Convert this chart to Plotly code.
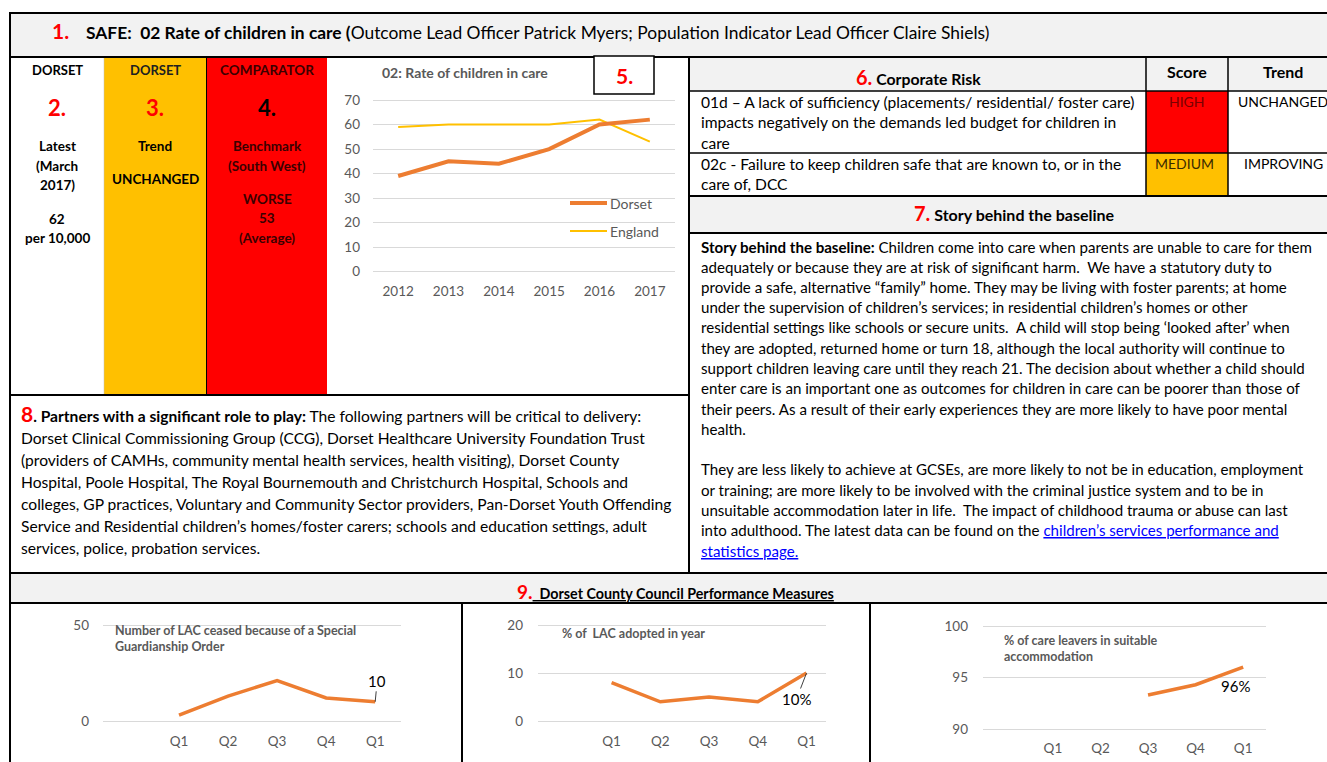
import plotly.graph_objects as go

W, H = 1327, 762
FONT = "Lato"
ORANGE = "#ED7D31"
YELLOW = "#FFC000"
GRID = "#D9D9D9"
TICK = "#595959"

# ---------------- data ----------------
years = ["2012", "2013", "2014", "2015", "2016", "2017"]
dorset_rate = [39, 45, 44, 50, 60, 62]
england_rate = [59, 60, 60, 60, 62, 53]

quarters = ["Q1", "Q2", "Q3", "Q4", "Q1"]
q_pos = [0, 1, 2, 3, 4]
sgo_ceased = [3, 13, 21, 12, 10]
lac_adopted_pct = [8, 4, 5, 4, 10]
care_leavers_pct = [None, None, 93.3, 94.3, 96]

risk_rows = [
    ["01d – A lack of sufficiency (placements/ residential/ foster care)",
     "impacts negatively on the demands led budget for children in",
     "care"],
    ["02c - Failure to keep children safe that are known to, or in the",
     "care of, DCC"],
]
risk_scores = ["HIGH", "MEDIUM"]
risk_trends = ["UNCHANGED", "IMPROVING"]

story_lines = [
    "<b>Story behind the baseline:</b> Children come into care when parents are unable to care for them",
    "adequately or because they are at risk of significant harm.&nbsp; We have a statutory duty to",
    "provide a safe, alternative “family” home. They may be living with foster parents; at home",
    "under the supervision of children’s services; in residential children’s homes or other",
    "residential settings like schools or secure units.&nbsp; A child will stop being ‘looked after’ when",
    "they are adopted, returned home or turn 18, although the local authority will continue to",
    "support children leaving care until they reach 21. The decision about whether a child should",
    "enter care is an important one as outcomes for children in care can be poorer than those of",
    "their peers. As a result of their early experiences they are more likely to have poor mental",
    "health.",
    "They are less likely to achieve at GCSEs, are more likely to not be in education, employment",
    "or training; are more likely to be involved with the criminal justice system and to be in",
    "unsuitable accommodation later in life.&nbsp; The impact of childhood trauma or abuse can last",
    "into adulthood. The latest data can be found on the <span style='color:#0000FF;text-decoration:underline'>children’s services performance and</span>",
    "<span style='color:#0000FF;text-decoration:underline'>statistics page.</span>",
]
story_y = [247, 267, 287, 307, 327, 348, 368, 388, 409, 429, 469, 490, 510, 530, 551]

partner_lines = [
    "<span style='color:#FF0000;font-size:21px'><b>8</b></span><b>. Partners with a significant role to play:</b> The following partners will be critical to delivery:",
    "Dorset Clinical Commissioning Group (CCG), Dorset Healthcare University Foundation Trust",
    "(providers of CAMHs, community mental health services, health visiting), Dorset County",
    "Hospital, Poole Hospital, The Royal Bournemouth and Christchurch Hospital, Schools and",
    "colleges, GP practices, Voluntary and Community Sector providers, Pan-Dorset Youth Offending",
    "Service and Residential children’s homes/foster carers; schools and education settings, adult",
    "services, police, probation services.",
]
partner_y = [413, 438, 460, 482, 504, 526, 548]

BODY = 15.6
STORY = 15.1


def px(x):
    return x / W


def py(y):
    return 1 - y / H


fig = go.Figure()
shapes = []
annots = []


def rect(x0, y0, x1, y1, fill="rgba(0,0,0,0)", lw=0, lc="black", layer="below"):
    shapes.append(dict(type="rect", xref="paper", yref="paper",
                       x0=px(x0), x1=px(x1), y0=py(y1), y1=py(y0),
                       fillcolor=fill, line=dict(width=lw, color=lc), layer=layer))


def line(x0, y0, x1, y1, lw=2, lc="black", layer="above"):
    shapes.append(dict(type="line", xref="paper", yref="paper",
                       x0=px(x0), x1=px(x1), y0=py(y0), y1=py(y1),
                       line=dict(width=lw, color=lc), layer=layer))


def txt(x, y, s, size=14, color="black", anchor="left", family=FONT):
    annots.append(dict(xref="paper", yref="paper", x=px(x), y=py(y), text=s,
                       showarrow=False, xanchor=anchor, yanchor="middle",
                       font=dict(family=family, size=size, color=color)))


# ---------------- frame / boxes ----------------
rect(10, 13, 1330, 57, fill="#F2F2F2")
rect(104, 58, 207, 395, fill=YELLOW)
rect(207, 58, 327, 395, fill="#FF0000")
rect(690, 58, 1330, 91, fill="#F2F2F2")
rect(1146, 91, 1228, 153, fill="#FF0000")
rect(1146, 153, 1228, 196, fill=YELLOW)
rect(690, 196, 1330, 233, fill="#F2F2F2")
rect(10, 573, 1330, 603, fill="#F2F2F2")

line(10, 13, 1330, 13)
line(10, 57, 1330, 57)
line(10, 12, 10, 762)
line(206.5, 58, 206.5, 395, lw=1)
line(104, 58, 104, 395, lw=0.5, lc="#BFBFBF")
line(10, 395, 689, 395)
line(689, 57, 689, 573)
line(690, 91, 1330, 91, lw=1.5)
line(690, 153, 1330, 153, lw=1.5)
line(1146, 57, 1146, 196, lw=1.5)
line(1228, 57, 1228, 196, lw=1.5)
line(690, 196, 1330, 196)
line(690, 233, 1330, 233)
line(10, 573, 1330, 573)
line(10, 603, 1330, 603)
line(462, 603, 462, 762)
line(870, 603, 870, 762)
# box "5."
rect(594, 56, 654, 94, fill="white", lw=1.5, layer="above")

# ---------------- header ----------------
txt(50, 31, "<b>1.</b>", size=21, color="#FF0000")
txt(84, 32, "<b>SAFE:&nbsp; 02 Rate of children in care (</b>Outcome Lead Officer Patrick Myers; "
    "Population Indicator Lead Officer Claire Shiels)", size=17.4)

# ---------------- left columns ----------------
c1, c2, c3 = 57, 155, 267
CS = 13.5
txt(c1, 70, "<b>DORSET</b>", 13, anchor="center")
txt(c1, 108, "<b>2.</b>", 22, "#FF0000", anchor="center")
for yy, s in [(146, "Latest"), (166, "(March"), (185, "2017)"), (219, "62"), (238, "per 10,000")]:
    txt(c1, yy, f"<b>{s}</b>", CS, anchor="center")
txt(c2, 70, "<b>DORSET</b>", 13, "#202020", anchor="center")
txt(c2, 108, "<b>3.</b>", 22, "#FF0000", anchor="center")
txt(c2, 146, "<b>Trend</b>", CS, anchor="center")
txt(c2, 179, "<b>UNCHANGED</b>", CS, anchor="center")
DR = "#3A0000"
txt(c3, 70, "<b>COMPARATOR</b>", 13.5, DR, anchor="center")
txt(c3, 108, "<b>4.</b>", 22, "black", anchor="center")
for yy, s in [(146, "Benchmark"), (166, "(South West)"), (199, "WORSE"), (218, "53"), (238, "(Average)")]:
    txt(c3, yy, f"<b>{s}</b>", CS, DR, anchor="center")

# ---------------- main chart ----------------
fig.add_trace(go.Scatter(x=years, y=england_rate, mode="lines", name="England",
                         line=dict(color=YELLOW, width=2), xaxis="x", yaxis="y",
                         showlegend=False))
fig.add_trace(go.Scatter(x=years, y=dorset_rate, mode="lines", name="Dorset",
                         line=dict(color=ORANGE, width=4), xaxis="x", yaxis="y",
                         showlegend=False))
txt(380, 72, "<b>02: Rate of children in care</b>", 14, TICK)
txt(624, 76, "<b>5.</b>", 21, "#FF0000", anchor="center")
annots.append(dict(xref="x", yref="y", x=years[-1], y=dorset_rate[-1], text=str(dorset_rate[-1]),
                   showarrow=False, xanchor="left", yanchor="middle", xshift=1,
                   font=dict(family=FONT, size=17, color="black")))
# legend
line(570, 203, 607, 203, lw=4, lc=ORANGE)
line(570, 231, 607, 231, lw=2, lc=YELLOW)
txt(608, 203, "Dorset", 14, TICK)
txt(608, 231, "England", 14, TICK)

# ---------------- risk table ----------------
txt(918, 77, "<span style='color:#FF0000;font-size:20px'><b>6.</b></span><b> Corporate Risk</b>", 15.8, anchor="center")
txt(1187, 71, "<b>Score</b>", 16, anchor="center")
txt(1283, 71, "<b>Trend</b>", 16, anchor="center")
row_y = [[102, 122, 143], [164, 184]]
for lines_, ys in zip(risk_rows, row_y):
    for s, yy in zip(lines_, ys):
        txt(699, yy, s, BODY)
txt(1187, 101, risk_scores[0], 14, "#7A0000", anchor="center")
txt(1184, 163, risk_scores[1], 14, "#3A2A00", anchor="center")
txt(1283, 101, risk_trends[0], 14, anchor="center")
txt(1283, 163, risk_trends[1], 14, anchor="center")

# ---------------- story ----------------
txt(1014, 213, "<span style='color:#FF0000;font-size:20px'><b>7.</b></span><b> Story behind the baseline</b>", 16, anchor="center")
for s, yy in zip(story_lines, story_y):
    txt(699, yy, s, STORY)

# ---------------- partners ----------------
for s, yy in zip(partner_lines, partner_y):
    txt(19, yy, s, BODY)

# ---------------- bottom header ----------------
txt(675, 591, "<span style='color:#FF0000;font-size:19px'><b>9.</b></span>"
    "<b><span style='text-decoration:underline'>&nbsp; Dorset County Council Performance Measures</span></b>",
    14.3, anchor="center")

# ---------------- bottom charts ----------------
fig.add_trace(go.Scatter(x=q_pos, y=sgo_ceased, mode="lines", line=dict(color=ORANGE, width=3.5),
                         xaxis="x2", yaxis="y2", showlegend=False))
fig.add_trace(go.Scatter(x=q_pos, y=lac_adopted_pct, mode="lines", line=dict(color=ORANGE, width=3.5),
                         xaxis="x3", yaxis="y3", showlegend=False))
fig.add_trace(go.Scatter(x=q_pos, y=care_leavers_pct, mode="lines", line=dict(color=ORANGE, width=3.5),
                         xaxis="x4", yaxis="y4", showlegend=False, connectgaps=False))

TS = 12.5
txt(113, 630, "<b>Number of LAC ceased because of a Special</b>", TS, TICK)
txt(113, 646, "<b>Guardianship Order</b>", TS, TICK)
txt(560, 633, "<b>% of&nbsp; LAC adopted in year</b>", TS, TICK)
txt(1002, 640, "<b>% of care leavers in suitable</b>", TS, TICK)
txt(1002, 656, "<b>accommodation</b>", TS, TICK)

annots.append(dict(xref="x2", yref="y2", x=q_pos[-1], y=sgo_ceased[-1], text=str(sgo_ceased[-1]),
                   showarrow=True, arrowhead=0, arrowwidth=1, arrowcolor="#404040",
                   ax=2, ay=-21, standoff=0,
                   font=dict(family=FONT, size=15, color="black")))
annots.append(dict(xref="x3", yref="y3", x=q_pos[-1], y=lac_adopted_pct[-1], text=f"{lac_adopted_pct[-1]}%",
                   showarrow=True, arrowhead=0, arrowwidth=1, arrowcolor="#404040",
                   ax=-10, ay=26, standoff=0,
                   font=dict(family=FONT, size=15, color="black")))
annots.append(dict(xref="x4", yref="y4", x=q_pos[-1], y=care_leavers_pct[-1], text=f"{care_leavers_pct[-1]:.0f}%",
                   showarrow=False, xshift=-8, yshift=-19,
                   font=dict(family=FONT, size=15, color="black")))


def xax(d0, d1, rng, anchor, cat=False, stand=8, size=13.5):
    a = dict(domain=[px(d0), px(d1)], range=rng, anchor=anchor, showgrid=False,
             zeroline=False, showline=False, ticks="", ticklabelstandoff=stand,
             automargin=False,
             tickfont=dict(family=FONT, size=size, color=TICK), fixedrange=True)
    if not cat:
        a.update(tickmode="array", tickvals=q_pos, ticktext=quarters)
    else:
        a.update(type="category")
    return a


def yax(top, bot, rng, dtick, anchor, stand=12, size=13.5, pad_px=2):
    # extend range a little so the edge gridlines are drawn
    upp = (rng[1] - rng[0]) / (bot - top)
    r = [rng[0] - pad_px * upp, rng[1] + pad_px * upp]
    return dict(domain=[py(bot + pad_px), py(top - pad_px)], range=r, anchor=anchor, showgrid=True,
                gridcolor=GRID, gridwidth=1, zeroline=False, showline=False,
                tickmode="linear", dtick=dtick, tick0=rng[0], ticks="", ticklabelstandoff=stand,
                automargin=False,
                tickfont=dict(family=FONT, size=size, color=TICK), fixedrange=True)


fig.update_layout(
    width=W, height=H, margin=dict(l=0, r=0, t=0, b=0, pad=0),
    paper_bgcolor="white", plot_bgcolor="rgba(0,0,0,0)",
    showlegend=False,
    xaxis=xax(373, 675, [-0.5, 5.5], "y", cat=True, stand=8),
    yaxis=yax(100, 271.7, [0, 70], 10, "x", stand=12),
    xaxis2=xax(103, 400.7, [-1.55, 4.52], "y2", stand=8),
    yaxis2=yax(625, 721, [0, 50], 50, "x2", stand=13),
    xaxis3=xax(538, 826, [-1.51, 4.4], "y3", stand=8),
    yaxis3=yax(625, 721, [0, 20], 10, "x3", stand=14),
    xaxis4=xax(983, 1266, [-1.47, 4.48], "y4", stand=7),
    yaxis4=yax(626, 729, [90, 100], 5, "x4", stand=14),
    shapes=shapes,
    annotations=annots,
)

fig.write_html("out.html", config={"displayModeBar": False},
               post_script="document.body.style.margin='0';document.body.style.overflow='hidden';")
